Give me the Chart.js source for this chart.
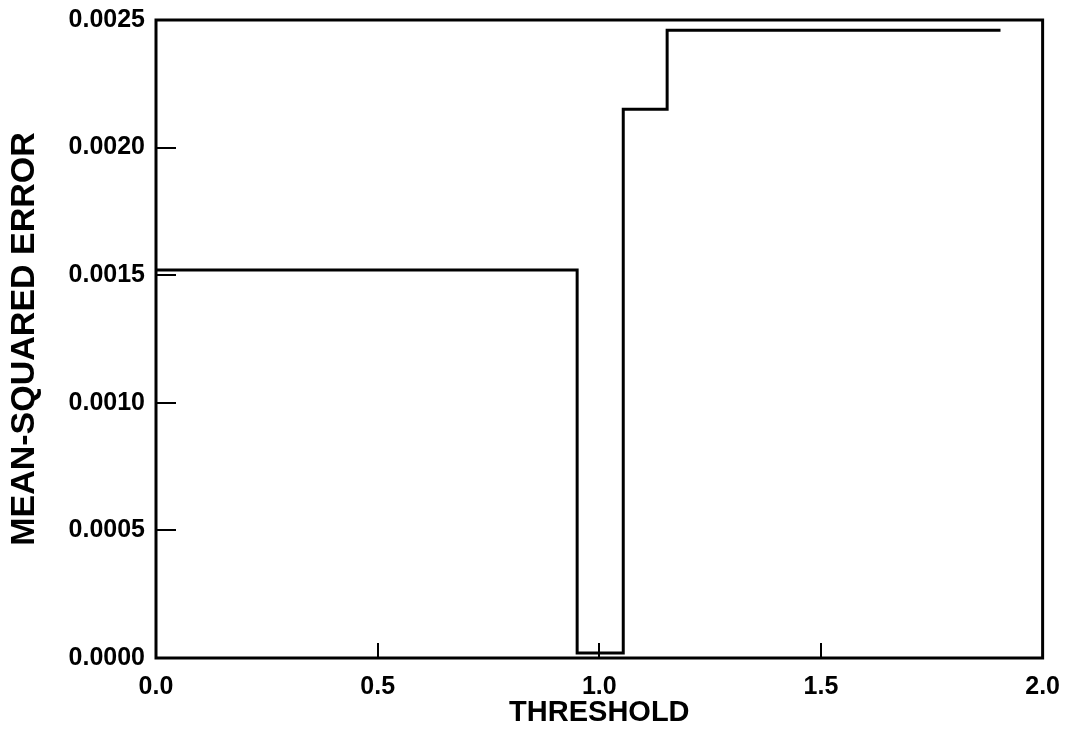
<!DOCTYPE html>
<html>
<head>
<meta charset="utf-8">
<script src="https://cdn.jsdelivr.net/npm/chart.js@4.4.1/dist/chart.umd.min.js"></script>
<style>
html,body{margin:0;padding:0;background:#fff;}
#wrap{width:1066px;height:732px;position:relative;}
</style>
</head>
<body>
<div id="wrap"><canvas id="c" width="1066" height="732"></canvas></div>
<script>
// Step-function data (threshold vs mean-squared error)
const thresholds = [0, 0.95, 1.054, 1.153, 1.905];
const mseValues = [0.00152, 0.00002, 0.00215, 0.00246, 0.00246];
// Axis ticks
const xTickValues = [0, 0.5, 1.0, 1.5, 2.0];
const yTickValues = [0, 0.0005, 0.0010, 0.0015, 0.0020, 0.0025];
const xTitle = 'THRESHOLD';
const yTitle = 'MEAN-SQUARED ERROR';

const FONT = '"Liberation Sans", Arial, Helvetica, sans-serif';

const framePlugin = {
  id: 'frame',
  afterDatasetsDraw(chart) {
    const ctx = chart.ctx;
    const a = chart.chartArea;
    const xs = chart.scales.x, ys = chart.scales.y;
    ctx.save();
    ctx.strokeStyle = '#000';
    ctx.lineWidth = 3;
    ctx.strokeRect(a.left, a.top, a.right - a.left, a.bottom - a.top);
    ctx.lineWidth = 2;
    ctx.beginPath();
    xTickValues.slice(1, -1).forEach(v => {
      const px = Math.round(xs.getPixelForValue(v));
      ctx.moveTo(px, a.bottom);
      ctx.lineTo(px, a.bottom - 15);
    });
    yTickValues.slice(1, -1).forEach(v => {
      const py = Math.round(ys.getPixelForValue(v));
      ctx.moveTo(a.left, py);
      ctx.lineTo(a.left + 20, py);
    });
    ctx.stroke();
    ctx.restore();
  }
};

new Chart(document.getElementById('c'), {
  type: 'line',
  data: {
    datasets: [{
      data: thresholds.map((x, i) => ({x: x, y: mseValues[i]})),
      stepped: 'before',
      borderColor: '#000',
      borderWidth: 3,
      pointRadius: 0,
      fill: false
    }]
  },
  options: {
    responsive: false,
    animation: false,
    devicePixelRatio: 1,
    layout: {padding: {top: 20, right: 0, bottom: 0, left: 0}},
    plugins: {legend: {display: false}, tooltip: {enabled: false}},
    scales: {
      x: {
        type: 'linear',
        min: 0, max: 2,
        grid: {display: false},
        border: {display: false},
        afterBuildTicks: s => { s.ticks = xTickValues.map(v => ({value: v})); },
        afterFit: s => { s.height = 74; },
        ticks: {
          color: '#000',
          padding: 6,
          maxRotation: 0,
          font: {family: FONT, size: 25, weight: 'bold'},
          callback: v => Number(v).toFixed(1)
        },
        title: {
          display: true, text: xTitle, color: '#000',
          font: {family: FONT, size: 29, weight: 'bold'},
          padding: {top: 0, bottom: 2}
        }
      },
      y: {
        type: 'linear',
        min: 0, max: 0.0025,
        grid: {display: false},
        border: {display: false},
        afterBuildTicks: s => { s.ticks = yTickValues.map(v => ({value: v})); },
        afterFit: s => { s.width = 156; },
        ticks: {
          color: '#000',
          padding: 3,
          font: {family: FONT, size: 25, weight: 'bold'},
          callback: v => Number(v).toFixed(4)
        },
        title: {
          display: true, text: yTitle, color: '#000',
          font: {family: FONT, size: 34, weight: 'bold'},
          padding: {top: 4, bottom: 0}
        }
      }
    }
  },
  plugins: [framePlugin]
});
</script>
</body>
</html>
